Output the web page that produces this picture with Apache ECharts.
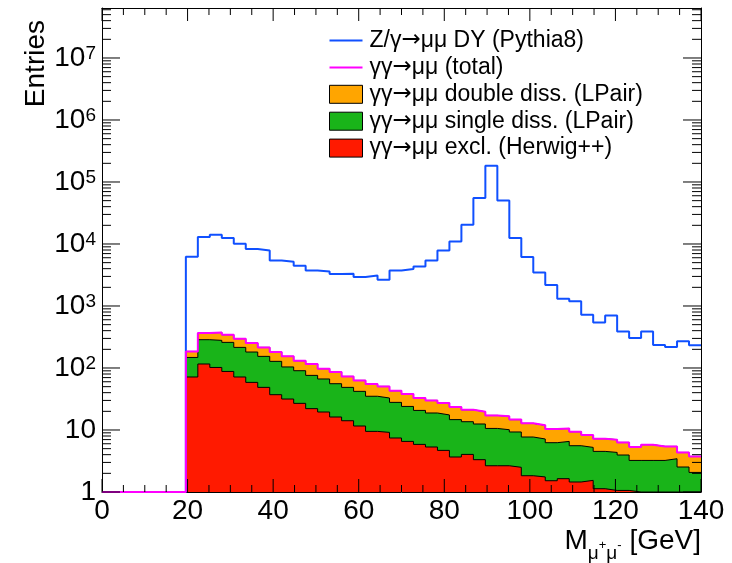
<!DOCTYPE html>
<html>
<head>
<meta charset="utf-8">
<title>Dimuon invariant mass</title>
<script src="https://cdn.jsdelivr.net/npm/echarts@6.0.0/dist/echarts.min.js"></script>
<style>
  html, body { margin: 0; padding: 0; background: #fff; }
  #main { width: 732px; height: 563px; }
</style>
</head>
<body>
<div id="main"></div>
<script type="text/javascript">
// 50 bins of 2.8 GeV between 0 and 140 GeV
var binWidth = 2.8;
var xMin = 0, xMax = 140;
var yMin = 1, yMax = 6.4e7;

// Z/gamma -> mumu DY (Pythia8)
var drellYan = [0, 0, 0, 0, 0, 0, 0,
  6240, 13000, 14100, 12500, 10100, 8300, 7880, 5440, 5180, 4470,
  3750, 3610, 3280, 3310, 2940, 3090, 2660, 3750, 3950, 4350,
  5440, 7880, 11000, 20500, 55200, 183000, 50500, 12500, 6170, 3480,
  2180, 1310, 1190, 724, 544, 705, 389, 305, 389, 235,
  218, 269, 232];

// stack levels (THStack style): excl, excl+single, excl+single+double (= total)
var stackTotal = [0, 0, 0, 0, 0, 0, 0,
  185, 367, 375, 344, 297, 253, 215, 181, 154, 131,
  116, 97.5, 86.1, 73.2, 63.1, 55, 50.5, 43, 38, 32.8,
  30, 27.2, 23.5, 21.2, 19.7, 17.2, 16.6, 14.7, 12.8, 11.9,
  10.4, 10.6, 9.39, 8.3, 7.24, 6.98, 6.31, 5.32, 5.8, 5.44,
  5.44, 4.35, 3.75];
var stackSingle = [0, 0, 0, 0, 0, 0, 0,
  148, 286, 279, 259, 215, 181, 154, 128, 104, 90.4,
  76, 66.5, 55.8, 48.7, 42, 35, 32.8, 27.9, 24, 20.7,
  18.8, 17.5, 14.7, 13.6, 12.5, 10.6, 10.1, 9.29, 7.71, 7.16,
  6.24, 6.55, 5.58, 5.24, 4.52, 4.35, 3.95, 3.23, 3.23, 3.23,
  3.44, 2.53, 2.07];
var stackExcl = [0, 0, 0, 0, 0, 0, 0,
  71.6, 116, 102, 88, 71.6, 58.6, 48.7, 37.1, 31.6, 26.9,
  22.1, 19.5, 16.2, 14.1, 11.6, 9.5, 9.15, 7.43, 6.55, 5.86,
  5.32, 4.69, 3.67, 4.04, 3.32, 2.65, 2.65, 2.5, 1.83, 1.75,
  1.52, 1.64, 1.45, 1.54, 1.13, 1.06, 1.06, 0, 0, 0,
  0, 0, 0];

var yTicks = [1, 10, 100, 1000, 10000, 100000, 1000000, 10000000];
var yMinorTicks = [];
for (var d = 0; d < 8; d++) {
  for (var k = 2; k <= 9; k++) {
    var t = k * Math.pow(10, d);
    if (t < yMax) yMinorTicks.push(t);
  }
}

var nameDY = 'Z/γ→μμ DY (Pythia8)';
var nameTotal = 'γγ→μμ (total)';
var nameDouble = 'γγ→μμ double diss. (LPair)';
var nameSingle = 'γγ→μμ single diss. (LPair)';
var nameExcl = 'γγ→μμ excl. (Herwig++)';

var colorDY = '#1050ff';
var colorTotal = '#ff00ff';
var colorDouble = '#ffa500';
var colorSingle = '#19b419';
var colorExcl = '#ff1a00';

var font = 'Liberation Sans, Arial, Helvetica, sans-serif';
var linePath = 'path://M0,0H33V2H0Z';

// histogram -> step points at bin low edges; empty bins sit on the axis floor
function histPoints(values) {
  var pts = [];
  for (var i = 0; i < values.length; i++) {
    pts.push([+(i * binWidth).toFixed(1), values[i] > 0 ? values[i] : yMin]);
  }
  pts.push([xMax, pts[pts.length - 1][1]]);
  return pts;
}

function decadeLabel(v) {
  var n = Math.round(Math.log10(v));
  if (n === 0) return '1';
  if (n === 1) return '10';
  return '{b|10}{e|' + n + '}';
}

// ROOT style frame ticks pointing inward on all four sides.
// each entry: [x, y, side, length]; side 0 bottom, 1 top, 2 left, 3 right
var frameTicks = [];
for (var x = xMin; x <= xMax; x += 5) {
  var len = x % 20 === 0 ? 13 : 7;
  frameTicks.push([x, yMin, 0, len], [x, yMax, 1, len]);
}
yTicks.forEach(function (v) { frameTicks.push([xMin, v, 2, 18], [xMax, v, 3, 18]); });
yMinorTicks.forEach(function (v) { frameTicks.push([xMin, v, 2, 9], [xMax, v, 3, 9]); });

function renderTick(params, api) {
  var p = api.coord([api.value(0), api.value(1)]);
  var side = Math.round(api.value(2));
  var l = api.value(3);
  var dx = 0, dy = 0;
  if (side === 0) dy = -l;
  else if (side === 1) dy = l;
  else if (side === 2) dx = l;
  else dx = -l;
  return {
    type: 'line',
    z2: 100,
    shape: { x1: p[0], y1: p[1], x2: p[0] + dx, y2: p[1] + dy },
    style: { stroke: '#000', lineWidth: 1, fill: null }
  };
}

function hidden() {
  return {
    axisTick: { show: false }, axisLabel: { show: false },
    splitLine: { show: false }, splitArea: { show: false },
    minorTick: { show: false }, minorSplitLine: { show: false }
  };
}
function yFrame(pos) {
  var ax = hidden();
  ax.type = 'log'; ax.logBase = 10; ax.min = yMin; ax.max = yMax; ax.position = pos;
  ax.axisLine = { show: true, onZero: false, lineStyle: { color: '#000', width: 1 } };
  return ax;
}
function xFrame(pos) {
  var ax = hidden();
  ax.type = 'value'; ax.min = xMin; ax.max = xMax; ax.interval = 20; ax.position = pos;
  ax.axisLine = { show: true, onZero: false, lineStyle: { color: '#000', width: 1 } };
  return ax;
}

var xBottom = xFrame('bottom');
xBottom.axisLabel = { show: true, color: '#000', fontSize: 28, fontFamily: font, margin: 5 };
xBottom.name = '{m|M}{s|μ}{p|+}{s|μ}{p|-}{m| [GeV]}';
xBottom.nameLocation = 'end';
xBottom.nameGap = 0;
xBottom.nameTextStyle = {
  align: 'right', verticalAlign: 'top', padding: [35, 0, 0, 0],
  rich: {
    m: { fontSize: 28, fontFamily: font, color: '#000', lineHeight: 28, verticalAlign: 'top' },
    s: { fontSize: 19, fontFamily: font, color: '#000', lineHeight: 19, padding: [17, 0, 0, 0], verticalAlign: 'top' },
    p: { fontSize: 13, fontFamily: font, color: '#000', lineHeight: 13, padding: [12, 0, 0, 0], verticalAlign: 'top' }
  }
};

var yLeft = yFrame('left');
yLeft.axisLabel = {
  show: true, customValues: yTicks, formatter: decadeLabel,
  color: '#000', fontSize: 28, fontFamily: font, margin: 6,
  rich: {
    b: { fontSize: 28, fontFamily: font, color: '#000', lineHeight: 28, verticalAlign: 'bottom' },
    e: { fontSize: 19, fontFamily: font, color: '#000', lineHeight: 20, padding: [0, 0, 14, 0], verticalAlign: 'top' }
  }
};
yLeft.name = 'Entries';
yLeft.nameLocation = 'end';
yLeft.nameRotate = 90;
yLeft.nameGap = -12;
yLeft.nameTextStyle = {
  align: 'right', verticalAlign: 'bottom', padding: [0, 0, 52, 0],
  fontSize: 28, fontFamily: font, color: '#000'
};

function areaSeries(name, values, fill, z) {
  return {
    name: name, type: 'line', step: 'end', data: histPoints(values),
    symbol: 'none', z: z,
    itemStyle: { color: fill },
    lineStyle: { color: '#000', width: 1 },
    areaStyle: { color: fill, opacity: 1, origin: 'start' }
  };
}

function lineSeries(name, values, color, z) {
  return {
    name: name, type: 'line', step: 'end', data: histPoints(values),
    symbol: 'none', z: z,
    itemStyle: { color: color },
    lineStyle: { color: color, width: 2 }
  };
}

var chart = echarts.init(document.getElementById('main'), null, { renderer: 'canvas' });
var option = {
  animation: false,
  backgroundColor: '#fff',
  textStyle: { fontFamily: font },
  grid: { show: false, left: 102, right: 31, top: 8, bottom: 71, containLabel: false },
  legend: {
    orient: 'vertical', left: 329, top: 29, padding: 0,
    itemWidth: 33, itemHeight: 18, itemGap: 3.9,
    selectedMode: false,
    formatter: function (name) { return name.replace('→', '{a|→}'); },
    textStyle: {
      fontSize: 23, color: '#000', fontFamily: font, lineHeight: 18, padding: [0, 0, 0, 2],
      rich: { a: { fontSize: 23, fontFamily: 'DejaVu Sans', color: '#000', lineHeight: 18 } }
    },
    data: [
      { name: nameDY, icon: linePath, itemStyle: { color: colorDY, borderWidth: 0 } },
      { name: nameTotal, icon: linePath, itemStyle: { color: colorTotal, borderWidth: 0 } },
      { name: nameDouble, icon: 'rect', itemStyle: { color: colorDouble, borderColor: '#000', borderWidth: 1 } },
      { name: nameSingle, icon: 'rect', itemStyle: { color: colorSingle, borderColor: '#000', borderWidth: 1 } },
      { name: nameExcl, icon: 'rect', itemStyle: { color: colorExcl, borderColor: '#000', borderWidth: 1 } }
    ]
  },
  xAxis: [xBottom, xFrame('top')],
  yAxis: [yLeft, yFrame('right')],
  series: [
    areaSeries(nameDouble, stackTotal, colorDouble, 2),
    areaSeries(nameSingle, stackSingle, colorSingle, 3),
    areaSeries(nameExcl, stackExcl, colorExcl, 4),
    lineSeries(nameDY, drellYan, colorDY, 5),
    lineSeries(nameTotal, stackTotal, colorTotal, 6),
    {
      name: 'frame ticks', type: 'custom', renderItem: renderTick,
      data: frameTicks, encode: { x: 0, y: 1 },
      dimensions: ['x', 'y', 'side', 'len'],
      zlevel: 1, z: 10, silent: true, clip: false
    }
  ]
};
chart.setOption(option);
</script>
</body>
</html>
